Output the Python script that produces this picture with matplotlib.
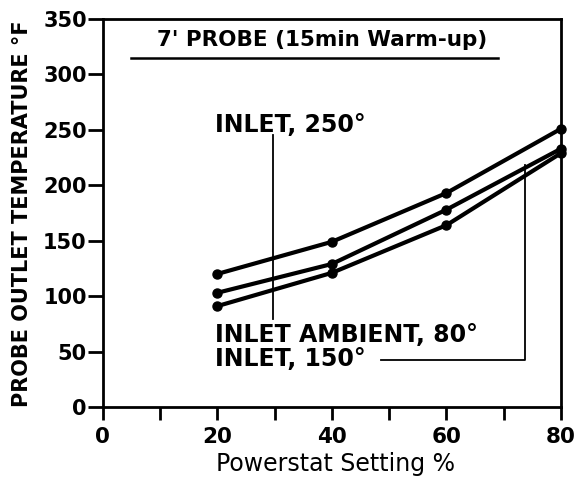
import matplotlib
matplotlib.use("Agg")
import matplotlib.pyplot as plt

# Data
powerstat = [20, 40, 60, 80]
inlet_250 = [120, 149, 193, 251]
inlet_150 = [103, 129, 178, 233]
inlet_ambient_80 = [91, 121, 164, 229]

x_ticks = [0, 10, 20, 30, 40, 50, 60, 70, 80]
x_tick_labels = ["0", "", "20", "", "40", "", "60", "", "80"]
y_ticks = [0, 50, 100, 150, 200, 250, 300, 350]
y_tick_labels = ["0", "50", "100", "150", "200", "250", "300", "350"]

plt.rcParams['font.family'] = ['DejaVu Sans']

fig = plt.figure(figsize=(5.75, 4.82), dpi=100)
ax = fig.add_axes([102.7/575, 1-407/482, (561-102.7)/575, (407-19)/482])

lw_curve = 3.0
for series in (inlet_250, inlet_150, inlet_ambient_80):
    ax.plot(powerstat, series, color='black', lw=lw_curve, marker='o',
            markersize=6.5, solid_capstyle='round', clip_on=False, zorder=3)

ax.set_xlim(0, 80)
ax.set_ylim(0, 350)
ax.set_xticks(x_ticks)
ax.set_xticklabels(x_tick_labels)
ax.set_yticks(y_ticks)
ax.set_yticklabels(y_tick_labels)
for s in ax.spines.values():
    s.set_linewidth(2.0)
ax.tick_params(axis='y', direction='out', length=10.5, width=2.0, pad=1,
               labelsize=15)
ax.tick_params(axis='x', direction='out', length=9.5, width=2.0, pad=5,
               labelsize=15.5)
for lab in ax.get_xticklabels() + ax.get_yticklabels():
    lab.set_fontweight('bold')

# Title inside axes with underline
ax.text(38.3, 331, "7' PROBE (15min Warm-up)", ha='center', va='center',
        fontsize=15.5, fontweight='bold')
ax.plot([5, 69], [315, 315], color='black', lw=1.8)

# Annotations
ann_fs = 17
ax.text(19.6, 254, "INLET, 250°", ha='left', va='center', fontsize=ann_fs,
        fontweight='bold')
ax.plot([29.8, 29.8], [245, 79], color='black', lw=1.3)
ax.text(19.6, 65, "INLET AMBIENT, 80°", ha='left', va='center', fontsize=ann_fs,
        fontweight='bold')
ax.text(19.6, 43, "INLET, 150°", ha='left', va='center', fontsize=ann_fs,
        fontweight='bold')
ax.plot([48.6, 73.7, 73.7], [42.4, 42.4, 218], color='black', lw=1.3)

fig.text(22.5/575, 1-214/482, "PROBE OUTLET TEMPERATURE °F", rotation=90,
         ha='center', va='center', fontsize=15, fontweight='bold')
fig.text(336/575, 1-464/482, "Powerstat Setting %", ha='center', va='center',
         fontsize=17)

fig.savefig("out.png", dpi=100)
